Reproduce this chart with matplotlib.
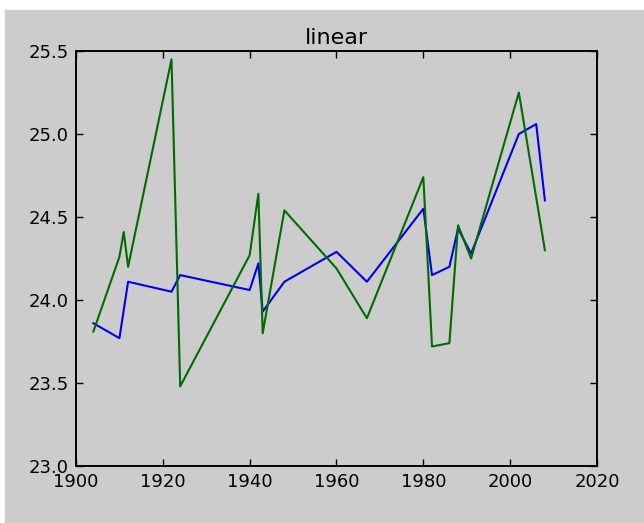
import matplotlib
matplotlib.use("Agg")
import matplotlib.pyplot as plt
from matplotlib.patches import Rectangle

# years / values
blue_years = [1904, 1910, 1912, 1922, 1924, 1940, 1942, 1943, 1948, 1960,
              1967, 1980, 1982, 1986, 1988, 1991, 2002, 2006, 2008]
blue_vals = [23.86, 23.77, 24.11, 24.05, 24.15, 24.06, 24.22, 23.93, 24.11, 24.29,
             24.11, 24.55, 24.15, 24.20, 24.43, 24.28, 25.00, 25.06, 24.60]

green_years = [1904, 1910, 1911, 1912, 1922, 1924, 1940, 1942, 1943, 1948, 1960,
               1967, 1980, 1982, 1986, 1988, 1991, 2002, 2008]
green_vals = [23.81, 24.26, 24.41, 24.20, 25.45, 23.48, 24.27, 24.64, 23.80, 24.54, 24.19,
              23.89, 24.74, 23.72, 23.74, 24.45, 24.25, 25.25, 24.30]

xticks = [1900, 1920, 1940, 1960, 1980, 2000, 2020]
yticks = [23.0, 23.5, 24.0, 24.5, 25.0, 25.5]

bg = "#cccccc"
plt.rcParams["font.family"] = "DejaVu Sans"

fig = plt.figure(figsize=(6.44, 5.23), dpi=100, facecolor="white")
# white strip on top and left like the reference screenshot
fig.patches.append(Rectangle((5 / 644, 0), 1, (523 - 10) / 523,
                             transform=fig.transFigure, color=bg, zorder=-10))
ax = fig.add_axes([76 / 644, 57 / 523, 521 / 644, 415 / 523])
ax.set_facecolor(bg)

ax.plot(blue_years, blue_vals, color="#0000ee", lw=1.5)
ax.plot(green_years, green_vals, color="#006c00", lw=1.5)

ax.set_xlim(1900, 2020)
ax.set_ylim(23.0, 25.5)
ax.set_xticks(xticks)
ax.set_yticks(yticks)
ax.set_yticklabels([f"{v:.1f}" for v in yticks])
ax.tick_params(direction="in", top=True, right=True, length=5, width=1,
               labelsize=13, pad=5)
for s in ax.spines.values():
    s.set_linewidth(1.4)
ax.set_title("linear", fontsize=16, pad=5)

fig.savefig("out.png", dpi=100, facecolor=fig.get_facecolor())
